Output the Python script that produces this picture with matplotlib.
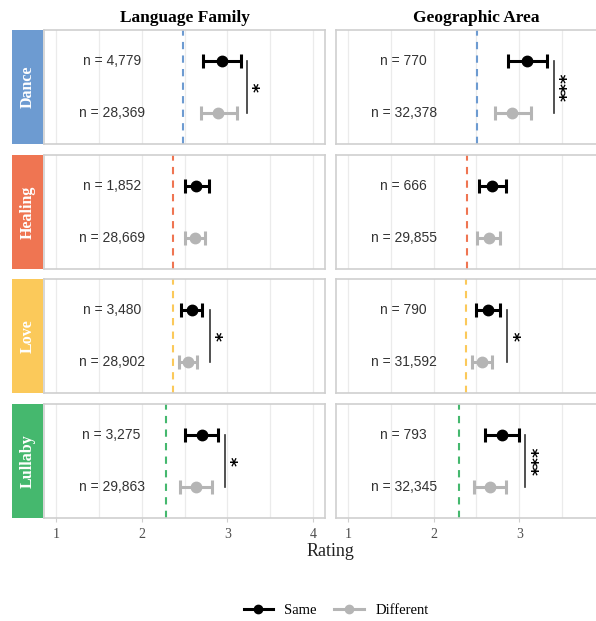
import matplotlib
matplotlib.use("Agg")
import matplotlib.pyplot as plt
from matplotlib.lines import Line2D

categories = ["Dance", "Healing", "Love", "Lullaby"]
strip_colors = ["#6D9BD1", "#EF7552", "#FBC95A", "#45B86E"]
panel_titles = ["Language Family", "Geographic Area"]
xticks = [1, 2, 3, 4]

lf_same_mean = [2.94, 2.64, 2.59, 2.70]
lf_same_lo = [2.72, 2.51, 2.46, 2.51]
lf_same_hi = [3.16, 2.79, 2.71, 2.89]
lf_diff_mean = [2.89, 2.62, 2.54, 2.64]
lf_diff_lo = [2.69, 2.51, 2.43, 2.45]
lf_diff_hi = [3.11, 2.74, 2.65, 2.82]
lf_n_same = ["4,779", "1,852", "3,480", "3,275"]
lf_n_diff = ["28,369", "28,669", "28,902", "29,863"]
lf_baseline = [2.48, 2.36, 2.36, 2.28]
lf_sig = ["*", "", "*", "*"]
lf_sig_x = [3.23, None, 2.80, 2.97]

ga_same_mean = [3.09, 2.68, 2.64, 2.80]
ga_same_lo = [2.87, 2.53, 2.50, 2.60]
ga_same_hi = [3.32, 2.84, 2.78, 3.00]
ga_diff_mean = [2.92, 2.65, 2.56, 2.66]
ga_diff_lo = [2.72, 2.51, 2.45, 2.47]
ga_diff_hi = [3.14, 2.77, 2.68, 2.84]
ga_n_same = ["770", "666", "790", "793"]
ga_n_diff = ["32,378", "29,855", "31,592", "32,345"]
ga_baseline = [2.51, 2.39, 2.38, 2.29]
ga_sig = ["***", "", "*", "***"]
ga_sig_x = [3.40, None, 2.86, 3.07]

groups = [
    dict(sm=lf_same_mean, sl=lf_same_lo, sh=lf_same_hi, dm=lf_diff_mean, dl=lf_diff_lo,
         dh=lf_diff_hi, ns=lf_n_same, nd=lf_n_diff, base=lf_baseline, sig=lf_sig, sigx=lf_sig_x),
    dict(sm=ga_same_mean, sl=ga_same_lo, sh=ga_same_hi, dm=ga_diff_mean, dl=ga_diff_lo,
         dh=ga_diff_hi, ns=ga_n_same, nd=ga_n_diff, base=ga_baseline, sig=ga_sig, sigx=ga_sig_x),
]

SERIF = "Liberation Serif"
SANS = "Liberation Sans"
W, H = 596, 621
fig = plt.figure(figsize=(W / 100, H / 100), dpi=100)

col_left = [44, 336]
col_w = 281
row_top = [30, 155, 279, 404]
row_h = 114
Y_SAME, Y_DIFF = 2, 1
N_X = 1.65
SAME_C = "black"
DIFF_C = "#b5b5b5"

for c, g in enumerate(groups):
    for r, cat in enumerate(categories):
        ax = fig.add_axes([col_left[c] / W, 1 - (row_top[r] + row_h) / H, col_w / W, row_h / H])
        ax.set_xlim(0.86, 4.14)
        ax.set_ylim(0.4, 2.6)
        for gx in [1, 1.5, 2, 2.5, 3, 3.5, 4]:
            ax.axvline(gx, color="#ebebeb", lw=0.9, zorder=0)
        for sp in ax.spines.values():
            sp.set_color("#cfcfcf")
            sp.set_linewidth(1.2)
        ax.set_yticks([])
        shown = xticks if c == 0 else xticks[:-1]
        ax.set_xticks(shown)
        if r == 3:
            ax.set_xticklabels([str(t) for t in shown], fontfamily=SERIF, fontsize=10, color="#4d4d4d")
            ax.tick_params(axis="x", length=3, color="#cfcfcf", pad=4)
        else:
            ax.tick_params(axis="x", length=0, labelbottom=False)
        ax.axvline(g["base"][r], color=strip_colors[r], lw=1.5, ls=(0, (3.5, 3)), zorder=1)
        ax.errorbar([g["dm"][r]], [Y_DIFF],
                    xerr=[[g["dm"][r] - g["dl"][r]], [g["dh"][r] - g["dm"][r]]],
                    fmt="o", color=DIFF_C, ms=7.5, elinewidth=2.2, capsize=5, capthick=2.2, zorder=3)
        ax.errorbar([g["sm"][r]], [Y_SAME],
                    xerr=[[g["sm"][r] - g["sl"][r]], [g["sh"][r] - g["sm"][r]]],
                    fmt="o", color=SAME_C, ms=7.5, elinewidth=2.2, capsize=5, capthick=2.2, zorder=3)
        ax.text(N_X, Y_SAME, "n = " + g["ns"][r], ha="center", va="center",
                fontfamily=SANS, fontsize=10, color="#333333")
        ax.text(N_X, Y_DIFF, "n = " + g["nd"][r], ha="center", va="center",
                fontfamily=SANS, fontsize=10, color="#333333")
        if g["sig"][r]:
            sx = g["sigx"][r]
            ax.plot([sx, sx], [Y_DIFF, Y_SAME], color="#333333", lw=1.2, zorder=2)
            ax.annotate(g["sig"][r], xy=(sx, (Y_SAME + Y_DIFF) / 2), xytext=(3.5, 0),
                        textcoords="offset points", rotation=90, ha="left", va="center",
                        fontfamily="DejaVu Sans", fontsize=13, fontweight="bold", color="black")
        if r == 0:
            ax.set_title(panel_titles[c], fontfamily=SERIF, fontweight="bold", fontsize=12.5, pad=6)
        if c == 0:
            sax = fig.add_axes([12 / W, 1 - (row_top[r] + row_h) / H, 31 / W, row_h / H])
            sax.set_facecolor(strip_colors[r])
            sax.set_xticks([])
            sax.set_yticks([])
            for sp in sax.spines.values():
                sp.set_visible(False)
            sax.text(0.5, 0.5, cat, rotation=90, ha="center", va="center", transform=sax.transAxes,
                     fontfamily=SERIF, fontweight="bold", fontsize=11.5, color="white")

fig.text(330 / W, 1 - 551 / H, "Rating", ha="center", va="center", fontfamily=SERIF,
         fontsize=13, color="#222222")

handles = [
    Line2D([0], [0], color=SAME_C, lw=2.2, marker="o", ms=6),
    Line2D([0], [0], color=DIFF_C, lw=2.2, marker="o", ms=6),
]
fig.legend(handles, ["Same", "Different"], loc="center", bbox_to_anchor=(336 / W, 1 - 610 / H),
           ncol=2, frameon=False, prop={"family": SERIF, "size": 10.5}, handlelength=2.0,
           columnspacing=1.2, handletextpad=0.8)

fig.savefig("out.png", dpi=100)
